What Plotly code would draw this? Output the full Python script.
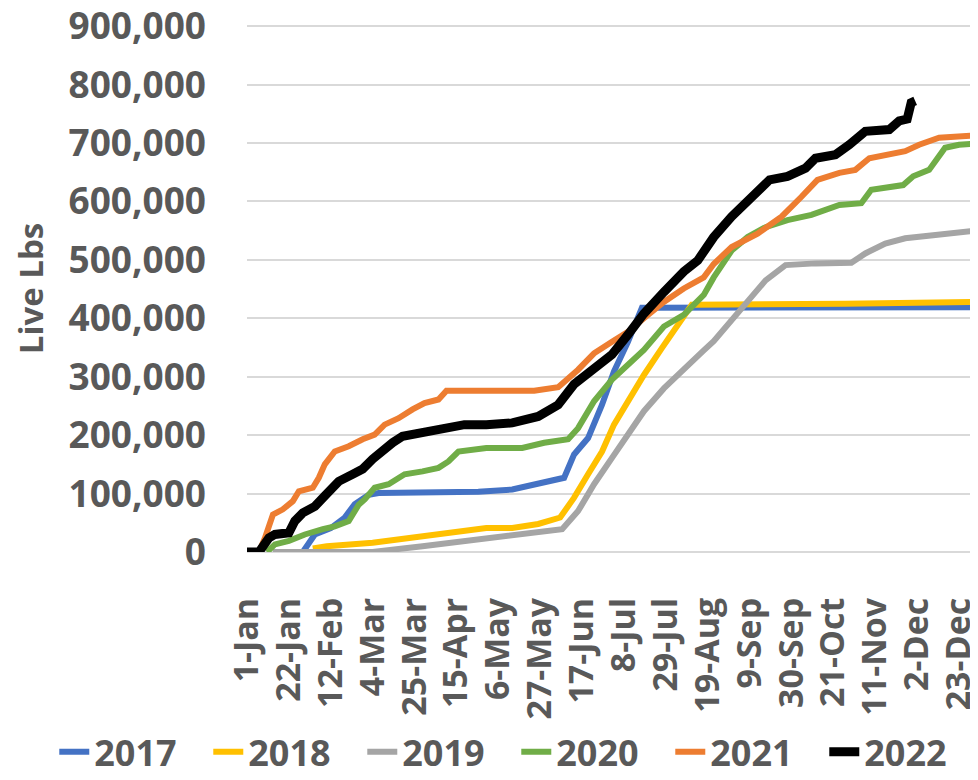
import pandas as pd
import plotly.graph_objects as go

days_2017 = [28, 34, 42, 49, 54, 61, 66, 90, 116, 133, 149, 159, 164, 171, 178, 184, 191, 198, 200, 320, 365]
lbs_2017 = [0, 30, 41, 59, 82, 98, 101, 102, 103, 107, 118, 127, 167, 195, 252, 309, 360, 418, 418, 418, 419]

days_2018 = [33, 40, 63, 89, 120, 133, 146, 157, 164, 171, 178, 184, 191, 199, 208, 214, 223, 300, 365]
lbs_2018 = [6, 10, 16, 27, 41, 41, 48, 59, 93, 133, 172, 218, 258, 303, 349, 377, 423, 425, 428]

days_2019 = [13, 63, 88, 120, 158, 166, 174, 183, 191, 199, 209, 219, 229, 234, 243, 251, 260, 270, 285,
             303, 310, 320, 330, 344, 357, 365]
lbs_2019 = [0, 0, 10, 24, 39, 70, 116, 161, 201, 241, 280, 314, 345, 361, 396, 430, 465, 491, 494,
            495, 511, 528, 537, 542, 548, 550]

days_2020 = [10, 14, 21, 29, 38, 44, 51, 56, 59, 64, 71, 79, 88, 96, 101, 106, 120, 138, 149, 161, 166,
             174, 183, 191, 199, 209, 219, 229, 234, 243, 251, 260, 271, 283, 297, 308, 313, 329, 334,
             342, 347, 350, 357, 365]
lbs_2020 = [0, 13, 19, 30, 39, 44, 53, 81, 90, 110, 116, 133, 138, 144, 155, 172, 178, 178, 187, 193, 212,
            258, 295, 321, 346, 386, 406, 440, 470, 516, 539, 556, 568, 577, 594, 597, 620, 628, 643,
            654, 677, 692, 697, 699]

days_2021 = [0, 6, 9, 13, 18, 23, 26, 33, 36, 39, 44, 51, 58, 64, 69, 76, 83, 89, 96, 100, 144, 156, 166,
             174, 183, 191, 199, 209, 219, 229, 234, 243, 256, 268, 278, 286, 297, 305, 312, 320, 330,
             337, 347, 365]
lbs_2021 = [0, 0, 24, 64, 73, 87, 104, 110, 127, 150, 172, 181, 193, 201, 218, 229, 244, 255, 261, 276, 276,
            282, 312, 340, 360, 377, 400, 428, 451, 470, 493, 522, 545, 574, 608, 637, 649, 654, 674,
            680, 686, 697, 709, 713]

days_2022 = [0, 6, 11, 14, 21, 24, 28, 34, 39, 46, 53, 58, 63, 66, 73, 78, 89, 96, 103, 109, 120, 133,
             146, 156, 164, 174, 183, 191, 199, 209, 219, 226, 234, 243, 254, 262, 271, 280, 285, 295,
             302, 310, 322, 327, 331, 333, 335]
lbs_2022 = [0, 0, 24, 30, 33, 53, 67, 78, 96, 121, 133, 142, 159, 169, 187, 198, 204, 210, 215, 218, 218,
            221, 232, 252, 287, 314, 338, 372, 408, 445, 480, 499, 539, 574, 608, 637, 643, 657, 674,
            680, 697, 720, 723, 738, 741, 769, 772]

series = [
    ("2017", days_2017, lbs_2017, "#4472C4", 6),
    ("2018", days_2018, lbs_2018, "#FFC000", 6),
    ("2019", days_2019, lbs_2019, "#A5A5A5", 6),
    ("2020", days_2020, lbs_2020, "#70AD47", 6),
    ("2021", days_2021, lbs_2021, "#ED7D31", 6),
    ("2022", days_2022, lbs_2022, "#000000", 9),
]

base = pd.Timestamp("2020-01-01")  # leap-year calendar, as in the source axis
tick_dates = [base + pd.Timedelta(days=21 * k) for k in range(18)]

FONT = "Open Sans, Liberation Sans, sans-serif"
GREY = "#595959"

fig = go.Figure()
for name, d, v, color, width in series:
    fig.add_trace(go.Scatter(
        x=base + pd.to_timedelta(d, unit="D"),
        y=[val * 1000 for val in v],
        mode="lines",
        name=name,
        line=dict(color=color, width=width),
    ))

# page body has an 8px default margin, so the figure is sized 970x772
fig.update_layout(
    width=970,
    height=772,
    margin=dict(l=239, r=1, t=17, b=228, autoexpand=False),
    plot_bgcolor="white",
    paper_bgcolor="white",
    font=dict(family=FONT, color=GREY),
    legend=dict(
        orientation="h",
        x=-0.264, y=-0.436, xanchor="left", yanchor="bottom",
        font=dict(family=FONT, size=36, color=GREY, weight="bold"),
        entrywidth=109,
        traceorder="normal",
        bgcolor="rgba(0,0,0,0)",
    ),
    showlegend=True,
)

fig.update_xaxes(
    type="date",
    range=[base, base + pd.Timedelta(days=366)],
    tickvals=tick_dates,
    tickformat="%-d-%b",
    tickangle=-90,
    tickfont=dict(family=FONT, size=34, color=GREY, weight="bold"),
    ticklabelstandoff=38,
    ticklabeloverflow="allow",
    automargin=False,
    showgrid=False,
    showline=False,
    zeroline=False,
)

fig.update_yaxes(
    range=[0, 902000],
    tickvals=[i * 100000 for i in range(10)],
    tickformat=",",
    tickfont=dict(family=FONT, size=37, color=GREY, weight="bold"),
    ticklabelstandoff=40,
    ticklabeloverflow="allow",
    automargin=False,
    showgrid=True,
    gridcolor="#D9D9D9",
    gridwidth=2,
    zeroline=True,
    zerolinecolor="#D9D9D9",
    zerolinewidth=2,
    title=dict(text="Live Lbs", font=dict(family=FONT, size=33, color=GREY, weight="bold"), standoff=18),
)

fig.write_html("out.html")
